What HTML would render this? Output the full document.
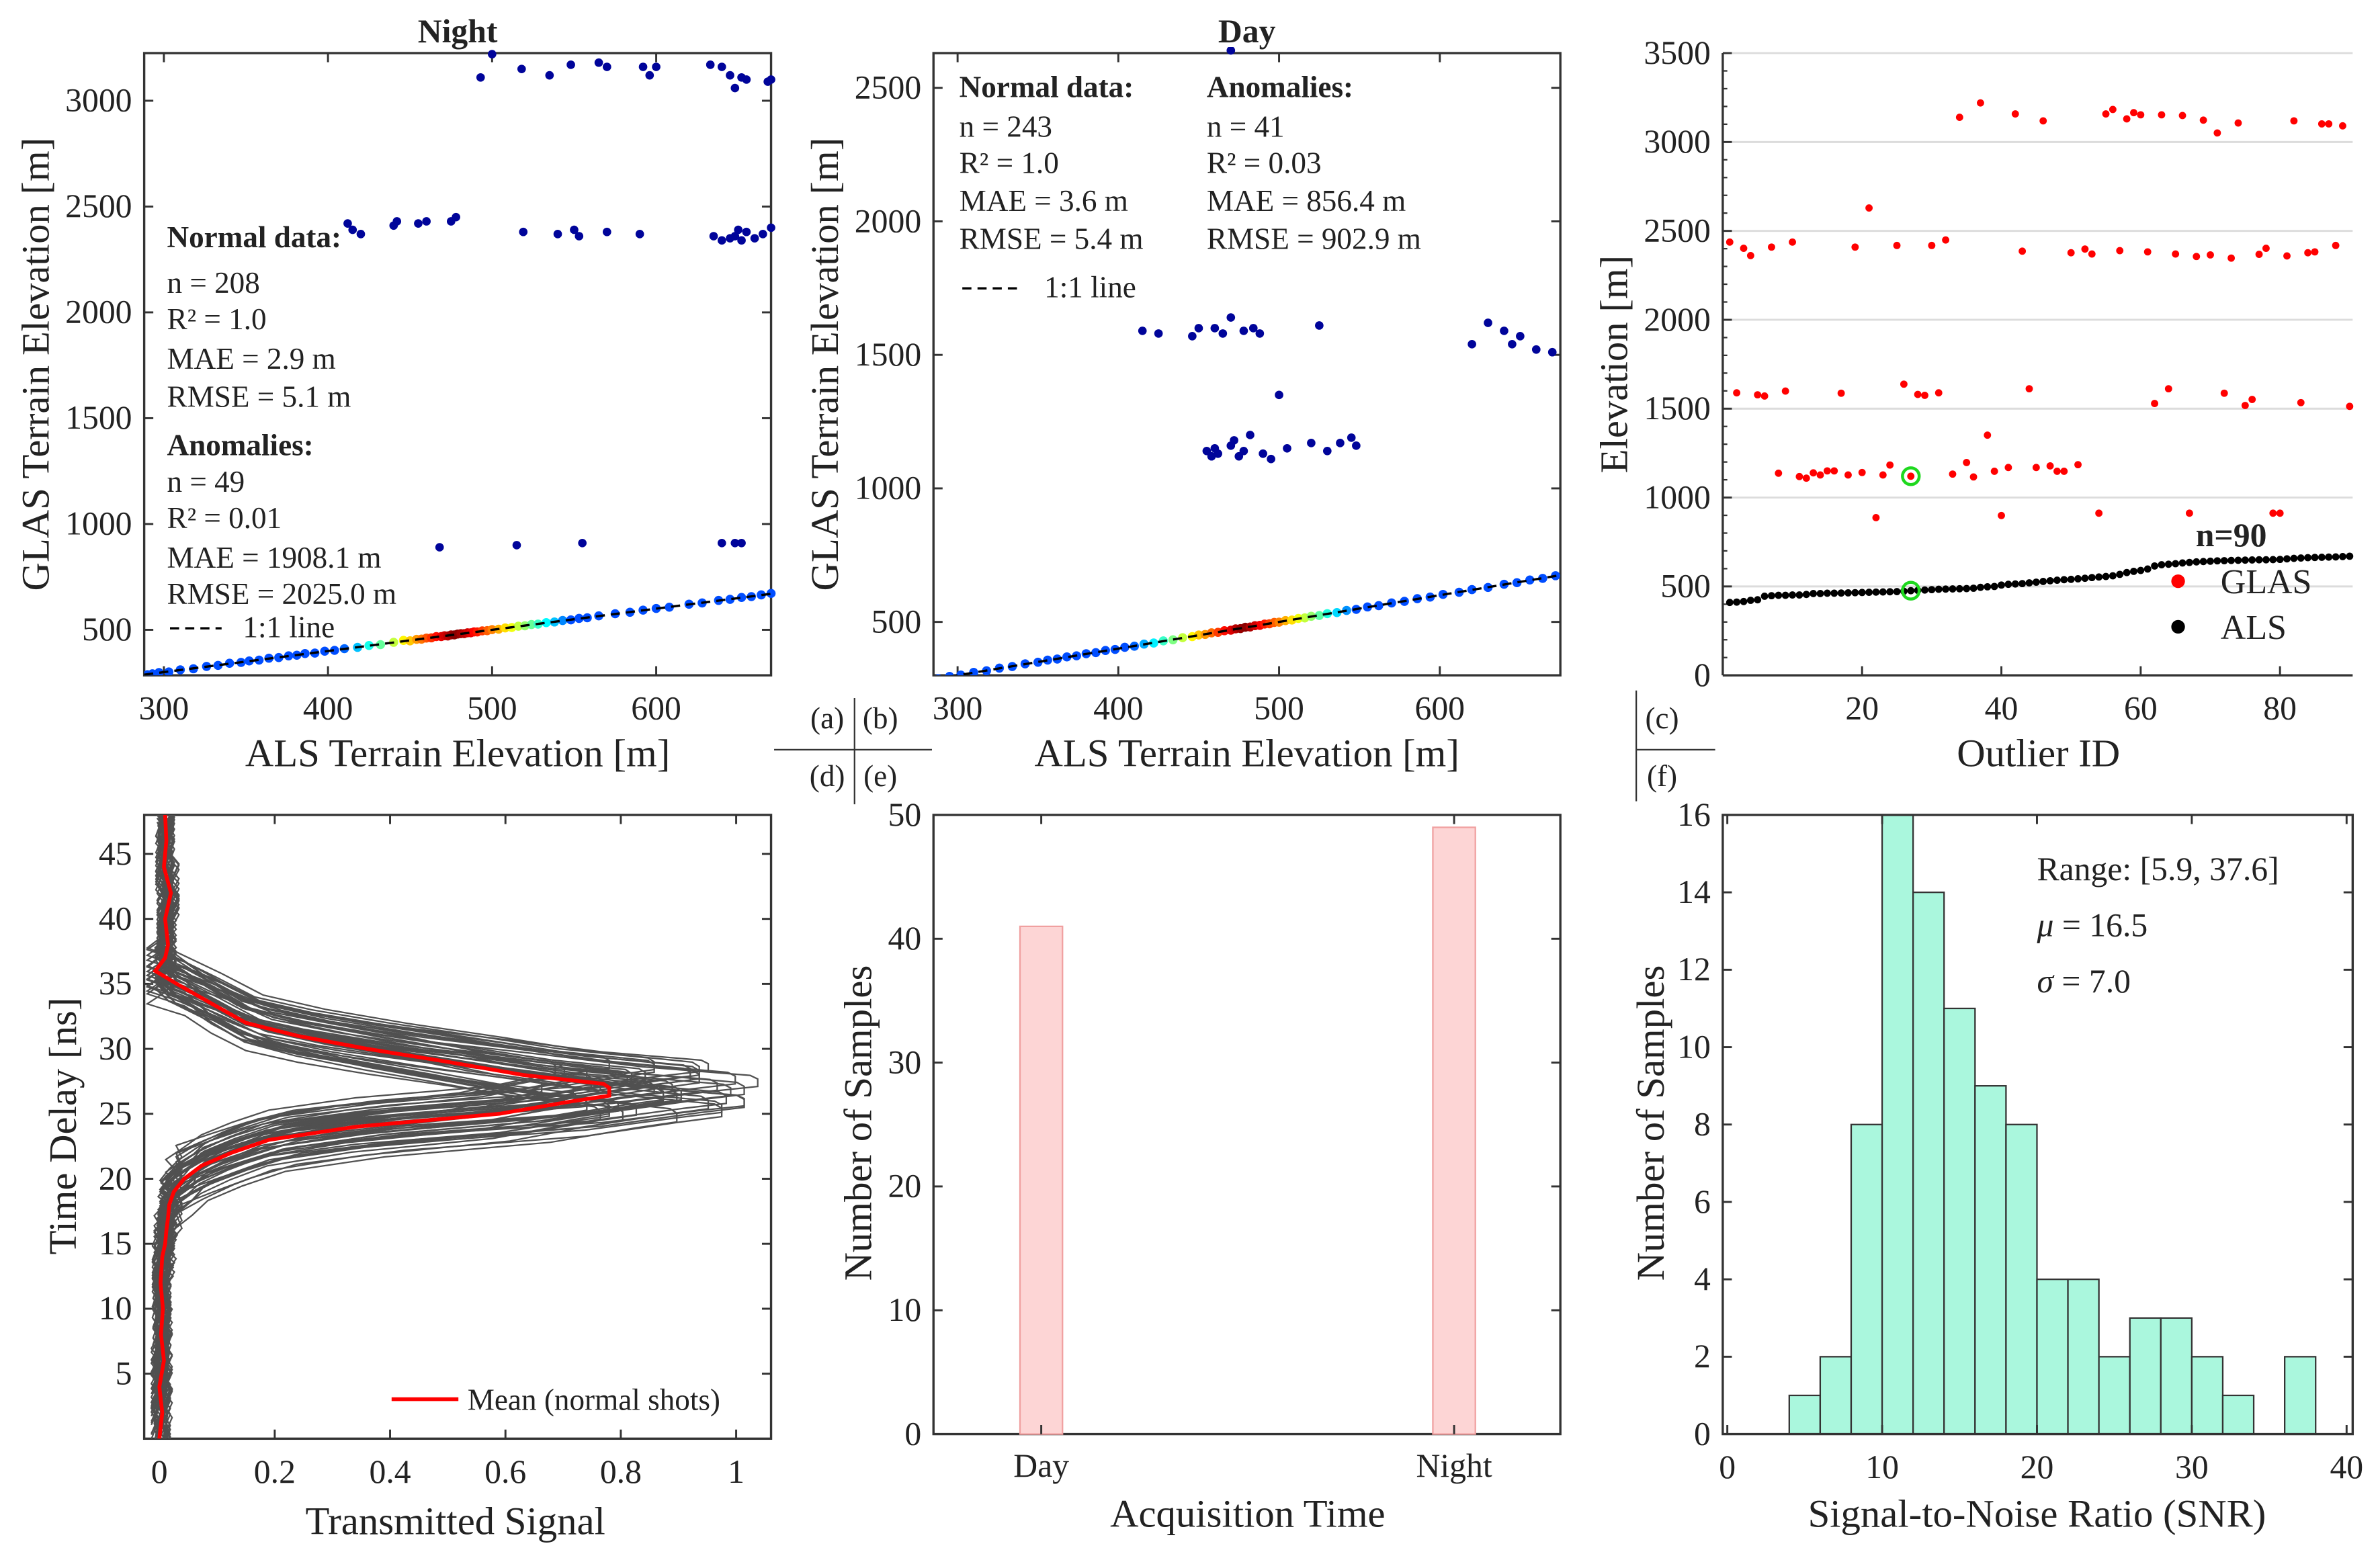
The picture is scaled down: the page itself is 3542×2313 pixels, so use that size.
<!DOCTYPE html>
<html><head><meta charset="utf-8"><style>
html,body{margin:0;padding:0;background:#fff}
svg{display:block}
text{font-family:"Liberation Serif","Times New Roman",serif;fill:#222}
</style></head><body>
<svg id="fig" xmlns="http://www.w3.org/2000/svg" width="3542" height="2313" viewBox="0 0 1568 1024" preserveAspectRatio="none" font-family="Liberation Serif, serif"></svg>
<script>
// ---------- data ----------
const nightNormAls=[290,293,297,303,310,318,326,333,340,347,352,358,364,370,376,381,386,392,398,404,410,418,425,432,440,446,450,454,457,460,463,466,469,471,473,475,477,479,481,483,485,487,489,491,494,497,500,504,508,512,516,520,524,528,533,538,543,548,553,558,565,575,584,592,600,608,620,628,638,645,652,658,664,670];
const nightNormGlas=[288,292,298,301,311,316,327,332,342,346,353,357,366,369,377,380,388,390,399,403,411,417,426,430,441,450,448,455,456,461,462,468,468,472,471,476,476,480,482,482,486,486,490,490,495,496,501,503,509,511,517,519,525,527,534,537,544,547,554,557,566,576,583,593,601,607,621,627,639,644,653,657,665,672];
const nightAnomAls=[493,500,518,535,548,565,570,592,596,600,633,640,645,648,652,655,668,670,412,415,420,440,442,455,460,475,478,519,540,550,553,570,590,635,640,645,648,650,652,655,660,665,670,468,515,555,640,648,652];
const nightAnomGlas=[3110,3220,3150,3120,3170,3180,3160,3160,3120,3160,3170,3160,3120,3060,3110,3100,3090,3100,2420,2390,2370,2410,2430,2420,2430,2430,2450,2380,2370,2390,2360,2380,2370,2360,2340,2350,2360,2390,2340,2380,2350,2370,2400,890,900,910,910,910,910];
const dayNormAls=[288,295,302,310,318,326,334,342,350,356,362,368,374,380,386,392,398,404,410,416,422,428,434,440,446,450,454,458,462,466,470,473,476,479,482,485,488,491,494,497,500,504,508,512,516,520,525,530,536,542,548,555,562,570,578,586,594,602,612,620,630,640,648,656,664,672];
const dayNormGlas=[287,296,301,311,317,327,333,343,349,357,361,369,373,381,385,393,397,405,409,417,421,429,433,441,445,451,453,459,461,467,469,474,475,480,481,486,487,492,493,498,499,505,507,513,515,521,524,531,535,543,547,556,561,571,577,587,593,603,611,621,629,641,647,657,663,673];
const dayAnomAls=[415,425,446,450,460,465,470,478,484,488,525,470,455,458,460,462,470,472,475,478,482,490,495,500,505,520,530,538,545,548,620,630,640,645,650,660,670];
const dayAnomGlas=[1590,1580,1570,1600,1600,1580,1640,1590,1600,1580,1610,2640,1140,1120,1150,1130,1160,1180,1120,1140,1200,1130,1110,1350,1150,1170,1140,1170,1190,1160,1540,1620,1590,1540,1570,1520,1510];
const glasElev=[2437,1589,2402,2361,1578,1571,2409,1137,1599,2437,1118,1109,1139,1127,1150,1150,1587,1127,2409,1141,2629,887,1127,1183,2418,1638,1120,1580,1575,2418,1589,2449,1132,3139,1197,1116,3220,1351,1148,899,1169,3158,2386,1612,1169,3119,1178,1148,1148,2377,1185,2398,2370,912,3158,3183,2389,3130,3165,3153,2382,1529,3153,1612,2370,3149,912,2356,3123,2365,3051,1587,2347,3107,1518,1552,2368,2402,912,912,2359,3119,1534,2377,2382,3102,3102,2418,3091,1513];
const alsElev=[410,412,415,422,425,445,448,450,450,452,452,455,460,460,462,462,463,464,465,466,467,468,469,470,471,473,476,478,480,482,484,485,486,487,488,490,495,498,500,508,512,514,516,520,524,528,532,535,538,540,543,546,550,553,556,560,568,578,585,590,598,615,622,625,628,632,635,638,640,642,644,645,646,647,648,649,650,650,651,652,655,658,660,662,663,664,665,666,668,670];
const highlightId=27;
const meanT=[0,2,4,6,8,10,12,14,15,16,17,18,19,20,21,22,23,24,25,26,26.4,27,27.3,28,29,30,31,32,33.5,35,36,37,38,40,42,44,46,48];
const meanX=[0.0,0.005,0.0,0.008,0.003,0.006,0.002,0.005,0.01,0.012,0.015,0.017,0.025,0.043,0.073,0.125,0.19,0.34,0.59,0.72,0.78,0.78,0.77,0.63,0.5,0.36,0.24,0.15,0.09,0.03,-0.007,0.01,0.015,0.01,0.02,0.008,0.012,0.01];
const wfAmp=[0.85,0.9,0.95,1.0,1.05,1.1,1.15,1.2,1.25,1.3,1.33,0.88,0.93,0.98,1.03,1.08,1.12,1.18,1.22,1.28,0.92,1.0,1.06,1.14,1.2,1.26,0.96,1.02,1.1,1.16,1.24,1.3,0.9,0.98,1.04,1.12,1.18,1.27,1.0,1.08,1.15,1.22,0.95,1.1,1.2,1.3,1.05,1.25];
const wfShift=[0.3,-0.9,1.4,-1.6,0.6,2.0,-0.4,1.0,-1.3,0.1,0.7,1.7,-0.7,0.4,-1.9,1.2,-0.3,1.5,-1.0,0.9,-0.1,2.1,-1.5,0.3,1.3,-0.6,0.7,-1.2,1.8,-0.3,0.4,-0.9,1.5,-1.8,0.9,-0.4,1.2,0.0,-1.4,0.6,-2.0,1.9,-1.1,0.2,1.6,-0.8,1.1,-1.6];
const wfWidth=[1.0,0.95,1.05,0.9,1.1,1.0,0.92,1.08,0.97,1.03,0.94,1.06,1.0,0.9,1.12,0.96,1.04,0.93,1.07,0.99,1.1,0.95,1.02,0.9,1.05,0.98,1.08,0.94,1.0,1.1,0.92,1.03,0.97,1.06,0.91,1.09,1.0,0.96,1.04,0.93,1.12,0.9,1.05,0.97,1.1,0.92,1.0,1.08];
const barCats=["Day","Night"];
const barVals=[41,49];
const histEdges=[4,6,8,10,12,14,16,18,20,22,24,26,28,30,32,34,36,38];
const histCounts=[1,2,8,16,14,11,9,8,4,4,2,3,3,2,1,0,2];

// ---------- helpers ----------
const NS="http://www.w3.org/2000/svg";
const svg=document.getElementById('fig');
const TK=22, AX=26, ST=20;
function el(tag,attrs,parent){const e=document.createElementNS(NS,tag);for(const k in attrs)e.setAttribute(k,attrs[k]);(parent||svg).appendChild(e);return e;}
function txt(s,x,y,size,opts,parent){const t=el('text',Object.assign({x:x,y:y,'font-size':size,'font-family':'Liberation Serif, serif'},opts||{}),parent);t.textContent=s;return t;}
function lin(d0,d1,p0,p1){return v=>p0+(v-d0)/(d1-d0)*(p1-p0);}
function jet(v){
  const r=Math.min(1,Math.max(0,1.5-Math.abs(4*v-3))),g=Math.min(1,Math.max(0,1.5-Math.abs(4*v-2))),b=Math.min(1,Math.max(0,1.5-Math.abs(4*v-1)));
  return `rgb(${Math.round(r*255)},${Math.round(g*255)},${Math.round(b*255)})`;}
function axesBox(g,x0,y0,x1,y1,box){
  if(box) el('rect',{x:x0,y:y0,width:x1-x0,height:y1-y0,fill:'none',stroke:'#333','stroke-width':1.5},g);
}
function xTicks(g,ticks,sx,y0,y1,top,labels){
  ticks.forEach((t,i)=>{const x=sx(t);
    el('line',{x1:x,x2:x,y1:y1,y2:y1-6,stroke:'#333','stroke-width':1.3},g);
    if(top) el('line',{x1:x,x2:x,y1:y0,y2:y0+6,stroke:'#333','stroke-width':1.3},g);
    const lb=txt(labels?labels[i]:String(t),x,y1+29,TK,{'text-anchor':'middle'},g);
    
    
  });}
function yTicks(g,ticks,sy,x0,x1,right,labels){
  ticks.forEach((t,i)=>{const y=sy(t);
    el('line',{x1:x0,x2:x0+6,y1:y,y2:y,stroke:'#333','stroke-width':1.3},g);
    if(right) el('line',{x1:x1,x2:x1-6,y1:y,y2:y,stroke:'#333','stroke-width':1.3},g);
    const lb=txt(labels?labels[i]:String(t),x0-8,y+7,TK,{'text-anchor':'end'},g);
    
    
  });}
function ylabel(g,s,x,y){const t=txt(s,x,y,AX,{'text-anchor':'middle',transform:`rotate(-90 ${x} ${y})`},g);}
function xlabel(g,s,x,y){const t=txt(s,x,y,AX,{'text-anchor':'middle'},g);}
function group(name){const g=el('g',{});return g;}

// ---------- scatter panels ----------
function scatterPanel(name,title,X0,X1,Y0,Y1,dx0,dx1,dy0,dy1,yt,nAls,nGlas,aAls,aGlas){
  const g=group(name);
  const sx=lin(dx0,dx1,X0,X1), sy=lin(dy0,dy1,Y1,Y0);
  axesBox(g,X0,Y0,X1,Y1,true);
  const tt=txt(title,(X0+X1)/2,28,22,{'text-anchor':'middle','font-weight':'bold'},g);
  
  xTicks(g,[300,400,500,600],sx,Y0,Y1,true);
  yTicks(g,yt,sy,X0,X1,true);
  const clip='c'+name;const cp=el('clipPath',{id:clip},g);el('rect',{x:X0,y:Y0-4,width:X1-X0+4,height:Y1-Y0+4},cp);
  const pts=el('g',{'clip-path':`url(#${clip})`},g);
  aAls.forEach((a,i)=>{const c=el('circle',{cx:sx(a),cy:sy(aGlas[i]),r:2.8,fill:'#00049a'},pts);
    });
  nAls.forEach((a,i)=>{const d=Math.abs(a-478);const v=Math.max(0,1-d/70);
    const c=el('circle',{cx:sx(a),cy:sy(nGlas[i]),r:3,fill:jet(0.2+0.8*v)},pts);
    });
  const ln=el('line',{x1:sx(dx0),y1:sy(dx0),x2:sx(dx1),y2:sy(dx1),stroke:'#000','stroke-width':1.5,'stroke-dasharray':'6,4'},pts);
  
  xlabel(g,'ALS Terrain Elevation [m]',(X0+X1)/2,505);
  return g;
}
const ga=scatterPanel('panel-a-night','Night',95,508,35,445,288,670,285,3225,[500,1000,1500,2000,2500,3000],nightNormAls,nightNormGlas,nightAnomAls,nightAnomGlas);
ylabel(ga,'GLAS Terrain Elevation [m]',32,240);
[['Normal data:',163,true],['n = 208',193],['R² = 1.0',217],['MAE = 2.9 m',243],['RMSE = 5.1 m',268],['Anomalies:',300,true],['n = 49',324],['R² = 0.01',348],['MAE = 1908.1 m',374],['RMSE = 2025.0 m',398]].forEach(r=>{const t=txt(r[0],110,r[1],ST,r[2]?{'font-weight':'bold'}:{},ga);});
el('line',{x1:112,x2:146,y1:414,y2:414,stroke:'#000','stroke-width':1.5,'stroke-dasharray':'6,4'},ga);
txt('1:1 line',160,420,ST,{},ga);

const gb=scatterPanel('panel-b-day','Day',615,1028,35,445,285,675,300,2630,[500,1000,1500,2000,2500],dayNormAls,dayNormGlas,dayAnomAls,dayAnomGlas);
ylabel(gb,'GLAS Terrain Elevation [m]',552,240);
[['Normal data:',64,true],['n = 243',90],['R² = 1.0',114],['MAE = 3.6 m',139],['RMSE = 5.4 m',164]].forEach(r=>{const t=txt(r[0],632,r[1],ST,r[2]?{'font-weight':'bold'}:{},gb);});
[['Anomalies:',64,true],['n = 41',90],['R² = 0.03',114],['MAE = 856.4 m',139],['RMSE = 902.9 m',164]].forEach(r=>{const t=txt(r[0],795,r[1],ST,r[2]?{'font-weight':'bold'}:{},gb);});
el('line',{x1:634,x2:670,y1:190,y2:190,stroke:'#000','stroke-width':1.5,'stroke-dasharray':'6,4'},gb);
txt('1:1 line',688,196,ST,{},gb);

// ---------- panel c ----------
(function(){
  const g=group('panel-c-outliers');
  const X0=1135,X1=1550,Y0=35,Y1=445;
  const sx=lin(0,90,1135,1548), sy=lin(0,3500,Y1,Y0);
  for(let v=500;v<=3500;v+=500){el('line',{x1:X0,x2:X1,y1:sy(v),y2:sy(v),stroke:'#dcdcdc','stroke-width':1.3},g);}
  el('line',{x1:X0,x2:X0,y1:Y0,y2:Y1,stroke:'#333','stroke-width':1.5},g);
  el('line',{x1:X0,x2:X1,y1:Y1,y2:Y1,stroke:'#333','stroke-width':1.5},g);
  for(let v=100;v<3500;v+=100){const y=sy(v);el('line',{x1:X0,x2:X0+(v%500?3:6),y1:y,y2:y,stroke:'#333','stroke-width':1},g);}
  yTicks(g,[0,500,1000,1500,2000,2500,3000,3500],sy,X0,X1,false);
  xTicks(g,[20,40,60,80],sx,Y0,Y1,false);
  alsElev.forEach((v,i)=>{const c=el('circle',{cx:sx(i+1),cy:sy(v),r:2.4,fill:'#000'},g);});
  glasElev.forEach((v,i)=>{const c=el('circle',{cx:sx(i+1),cy:sy(v),r:2.4,fill:'#f00'},g);});
  [glasElev[highlightId-1],alsElev[highlightId-1]].forEach(v=>{const c=el('circle',{cx:sx(highlightId),cy:sy(v),r:5.5,fill:'none',stroke:'#1ed81e','stroke-width':2},g);});
  ylabel(g,'Elevation [m]',1072,240);
  xlabel(g,'Outlier ID',1343,505);
  const lg=el('g',{},g);
  txt('n=90',1470,360,22,{'text-anchor':'middle','font-weight':'bold'},lg);
  el('circle',{cx:1435,cy:383,r:4.5,fill:'#f00'},lg);txt('GLAS',1463,391,23,{},lg);
  el('circle',{cx:1435,cy:413,r:4.5,fill:'#000'},lg);txt('ALS',1463,421,23,{},lg);
})();

// ---------- panel d ----------
(function(){
  const g=group('panel-d-waveforms');
  const X0=95,X1=508,Y0=537,Y1=948;
  const sx=lin(0,1,105,485), sy=lin(0,48,Y1,Y0);
  axesBox(g,X0,Y0,X1,Y1,true);
  xTicks(g,[0,0.2,0.4,0.6,0.8,1],sx,Y0,Y1,true,['0','0.2','0.4','0.6','0.8','1']);
  yTicks(g,[5,10,15,20,25,30,35,40,45],sy,X0,X1,true);
  const cp=el('clipPath',{id:'cpd'},g);el('rect',{x:X0,y:Y0,width:X1-X0,height:Y1-Y0},cp);
  const w=el('g',{'clip-path':'url(#cpd)'},g);
  wfAmp.forEach((a,k)=>{
    let d='';meanT.forEach((t,i)=>{const base=meanX[i];const peak=base>0.05;
      const tt=26.6+(t-26.6)*wfWidth[k]+wfShift[k];
      const x=peak?base*a:base+0.014*((i+k)%3-1);
      d+=(i?'L':'M')+sx(x).toFixed(1)+','+sy(tt).toFixed(1);});
    const p=el('path',{d:d,fill:'none',stroke:'#505050','stroke-width':1},w);
    
  });
  let d='';meanT.forEach((t,i)=>{d+=(i?'L':'M')+sx(meanX[i]).toFixed(1)+','+sy(t).toFixed(1);});
  const m=el('path',{d:d,fill:'none',stroke:'#f00','stroke-width':2.5},w);
  
  const lg=el('g',{},g);
  el('line',{x1:258,x2:302,y1:922,y2:922,stroke:'#f00','stroke-width':2.5},lg);
  txt('Mean (normal shots)',308,929,ST,{},lg);
  ylabel(g,'Time Delay [ns]',50,742);
  xlabel(g,'Transmitted Signal',300,1011);
})();

// ---------- panel e ----------
(function(){
  const g=group('panel-e-bar');
  const X0=615,X1=1028,Y0=537,Y1=945;
  const sy=lin(0,50,Y1,Y0); const cx=[686,958];
  axesBox(g,X0,Y0,X1,Y1,true);
  yTicks(g,[0,10,20,30,40,50],sy,X0,X1,true);
  barCats.forEach((c,i)=>{const r=el('rect',{x:cx[i]-14,y:sy(barVals[i]),width:28,height:Y1-sy(barVals[i]),fill:'#fdd5d5',stroke:'#f0a0a0','stroke-width':1},g);
    
    el('line',{x1:cx[i],x2:cx[i],y1:Y1,y2:Y1-6,stroke:'#333','stroke-width':1.3},g);
    el('line',{x1:cx[i],x2:cx[i],y1:Y0,y2:Y0+6,stroke:'#333','stroke-width':1.3},g);
    const t=txt(c,cx[i],973,TK,{'text-anchor':'middle'},g);});
  ylabel(g,'Number of Samples',574,740);
  xlabel(g,'Acquisition Time',822,1006);
})();

// ---------- panel f ----------
(function(){
  const g=group('panel-f-histogram');
  const X0=1135,X1=1550,Y0=537,Y1=945;
  const sx=lin(0,40,1138,1546), sy=lin(0,16,Y1,Y0);
  histCounts.forEach((c,i)=>{if(!c)return;const r=el('rect',{x:sx(histEdges[i]),y:sy(c),width:sx(histEdges[i+1])-sx(histEdges[i]),height:Y1-sy(c),fill:'#aaf7dd',stroke:'#333','stroke-width':1},g);
    });
  axesBox(g,X0,Y0,X1,Y1,true);
  yTicks(g,[0,2,4,6,8,10,12,14,16],sy,X0,X1,true);
  xTicks(g,[0,10,20,30,40],sx,Y0,Y1,true);
  const st=el('g',{},g);
  txt('Range: [5.9, 37.6]',1342,580,22,{},st);
  const t1=txt('',1342,617,22,{},st);const a=el('tspan',{'font-style':'italic'},t1);a.textContent='μ';const b=el('tspan',{},t1);b.textContent=' = 16.5';
  const t2=txt('',1342,654,22,{},st);const c=el('tspan',{'font-style':'italic'},t2);c.textContent='σ';const e=el('tspan',{},t2);e.textContent=' = 7.0';
  ylabel(g,'Number of Samples',1096,740);
  xlabel(g,'Signal-to-Noise Ratio (SNR)',1342,1006);
})();

// ---------- panel label separators ----------
(function(){
  const g=group('panel-labels');
  el('line',{x1:563,x2:563,y1:460,y2:530,stroke:'#333','stroke-width':1},g);
  el('line',{x1:510,x2:614,y1:494,y2:494,stroke:'#333','stroke-width':1},g);
  txt('(a)',545,480,20,{'text-anchor':'middle'},g);txt('(b)',580,480,20,{'text-anchor':'middle'},g);
  txt('(d)',545,518,20,{'text-anchor':'middle'},g);txt('(e)',580,518,20,{'text-anchor':'middle'},g);
  el('line',{x1:1078,x2:1078,y1:455,y2:528,stroke:'#333','stroke-width':1},g);
  el('line',{x1:1078,x2:1130,y1:494,y2:494,stroke:'#333','stroke-width':1},g);
  txt('(c)',1095,480,20,{'text-anchor':'middle'},g);txt('(f)',1095,518,20,{'text-anchor':'middle'},g);
})();
</script>
</body></html>
